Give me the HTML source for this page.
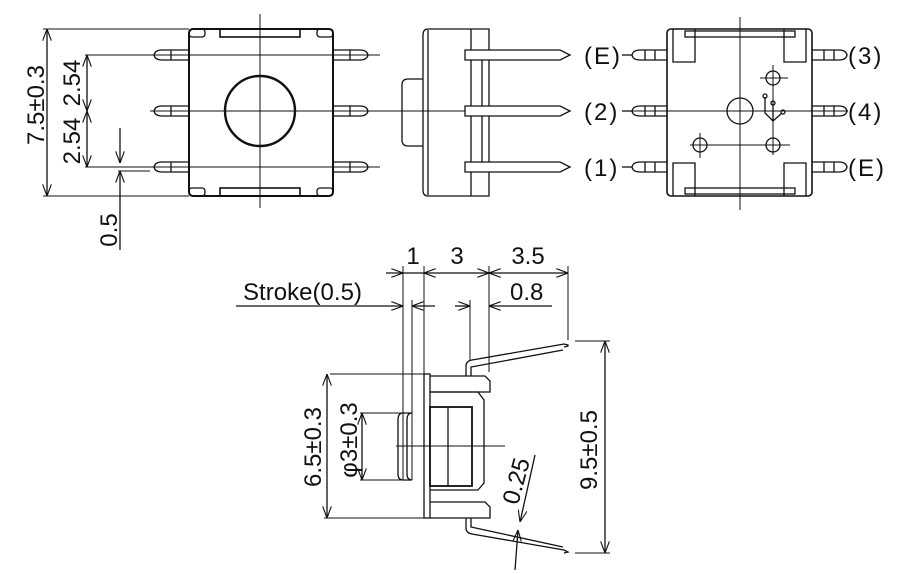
<!DOCTYPE html>
<html><head><meta charset="utf-8"><style>
html,body{margin:0;padding:0;background:#fff;width:906px;height:574px;overflow:hidden}
text{font-family:"Liberation Sans",sans-serif;fill:#111}
</style></head><body>
<svg width="906" height="574" viewBox="0 0 906 574" xmlns="http://www.w3.org/2000/svg">
<defs>
<marker id="a" markerWidth="12" markerHeight="9" refX="12" refY="4.5" orient="auto-start-reverse" markerUnits="userSpaceOnUse"><path d="M0,0 L12,4.5 L0,9" fill="none" stroke="#111" stroke-width="1.1"/></marker>
</defs>
<g stroke="#111" fill="none" stroke-width="1.3">
<!-- FRONT VIEW -->
<rect x="189" y="29" width="144" height="167" rx="4" stroke-width="2"/>
<rect x="189" y="29" width="16" height="8" rx="3"/>
<rect x="317" y="29" width="16" height="8" rx="3"/>
<rect x="189" y="188" width="16" height="8" rx="3"/>
<rect x="317" y="188" width="16" height="8" rx="3"/>
<rect x="220" y="29" width="80" height="8" stroke-width="1.6"/>
<rect x="220" y="188" width="80" height="8" stroke-width="1.6"/>
<circle cx="260" cy="111" r="35" stroke-width="2.4"/>
<line x1="260" y1="14" x2="260" y2="208" stroke-width="1"/>
<line x1="150" y1="111" x2="380" y2="111" stroke-width="1"/>
<g id="pl">
<path d="M189,50 H162 Q155,50 154,55 Q155,60 162,60 H189"/>
<line x1="171" y1="50" x2="171" y2="60"/>
</g>
<use href="#pl" y="56"/><use href="#pl" y="112"/>
<g id="pr"><path d="M333,50 H360 Q367,50 368,55 Q367,60 360,60 H333"/><line x1="350" y1="50" x2="350" y2="60"/></g>
<use href="#pr" y="56"/><use href="#pr" y="112"/>
<line x1="150" y1="55" x2="380" y2="55" stroke-width="1"/>
<line x1="150" y1="167" x2="380" y2="167" stroke-width="1"/>
<!-- dims -->
<line x1="43" y1="29" x2="189" y2="29" stroke-width="1"/><line x1="43" y1="196" x2="189" y2="196" stroke-width="1"/>
<line x1="47" y1="29" x2="47" y2="196" marker-start="url(#a)" marker-end="url(#a)"/>
<line x1="85" y1="55" x2="150" y2="55" stroke-width="1"/><line x1="85" y1="167" x2="150" y2="167" stroke-width="1"/>
<line x1="87" y1="55" x2="87" y2="111" marker-start="url(#a)" marker-end="url(#a)"/>
<line x1="87" y1="111" x2="87" y2="167" marker-start="url(#a)" marker-end="url(#a)"/>
<line x1="120" y1="128" x2="120" y2="163" marker-end="url(#a)"/>
<line x1="120" y1="250" x2="120" y2="171" marker-end="url(#a)"/>
<line x1="118" y1="171" x2="150" y2="171" stroke-width="1"/>
<!-- SIDE VIEW -->
<path d="M428,29 H489 V196 H428 Q423,196 423,190 V35 Q423,29 428,29 Z"/>
<line x1="428" y1="30" x2="428" y2="195"/>
<line x1="471" y1="29" x2="471" y2="196"/>
<path d="M423,79 H408 Q402,79 402,85 V140 Q402,146 408,146 H423"/>
<line x1="482" y1="60" x2="482" y2="162"/>
<g id="sp"><path d="M465,50 H560 L570,55 L560,60 H465 Z" fill="#fff"/></g>
<use href="#sp" y="56"/><use href="#sp" y="112"/>
<line x1="380" y1="111" x2="465" y2="111" stroke-width="1"/>
<!-- BACK VIEW -->
<rect x="667" y="29" width="145" height="167" rx="4" stroke-width="1.6"/>
<path d="M673,29 V62 H695 V29"/><path d="M806,29 V62 H784 V29"/>
<path d="M673,196 V163 H695 V196"/><path d="M806,196 V163 H784 V196"/>
<rect x="685" y="31" width="110" height="6"/><rect x="685" y="188" width="110" height="6"/>
<line x1="740" y1="17" x2="740" y2="210" stroke-width="1"/>
<line x1="632" y1="111" x2="848" y2="111" stroke-width="1"/>
<line x1="690" y1="145" x2="790" y2="145" stroke-width="1"/>
<line x1="760" y1="78" x2="788" y2="78" stroke-width="1"/>
<line x1="773" y1="65" x2="773" y2="155" stroke-width="1"/>
<line x1="700" y1="133" x2="700" y2="158" stroke-width="1"/>
<circle cx="740" cy="111" r="13"/>
<circle cx="773" cy="78" r="7"/><circle cx="700" cy="145" r="7"/><circle cx="773" cy="145" r="7"/>
<path d="M765,97 V113 L773,121 L782,113 M773,104 V121"/>
<circle cx="765" cy="96" r="2"/><circle cx="773" cy="103" r="2"/><circle cx="783" cy="112" r="2"/>
<g id="bl"><path d="M667,50 H640 Q633,50 632,55 Q633,60 640,60 H667"/><line x1="645" y1="50" x2="645" y2="60"/><line x1="655" y1="50" x2="655" y2="60"/></g>
<use href="#bl" y="56"/><use href="#bl" y="112"/>
<g id="br"><path d="M812,50 H839 Q846,50 847,55 Q846,60 839,60 H812"/><line x1="824" y1="50" x2="824" y2="60"/><line x1="834" y1="50" x2="834" y2="60"/></g>
<use href="#br" y="56"/><use href="#br" y="112"/>
<line x1="622" y1="55" x2="632" y2="55"/><line x1="622" y1="111" x2="632" y2="111"/><line x1="622" y1="167" x2="632" y2="167"/>
<!-- BOTTOM VIEW -->
<line x1="403" y1="266" x2="403" y2="480" stroke-width="1"/>
<line x1="412" y1="300" x2="412" y2="480" stroke-width="1"/>
<line x1="424" y1="266" x2="424" y2="374" stroke-width="1"/>
<line x1="489" y1="266" x2="489" y2="372" stroke-width="1"/>
<line x1="470" y1="300" x2="470" y2="360" stroke-width="1"/>
<line x1="568" y1="266" x2="568" y2="340" stroke-width="1"/>
<line x1="386" y1="273" x2="403" y2="273" marker-end="url(#a)"/>
<line x1="403" y1="273" x2="424" y2="273"/>
<line x1="424" y1="273" x2="489" y2="273" marker-start="url(#a)" marker-end="url(#a)"/>
<line x1="489" y1="273" x2="568" y2="273" marker-start="url(#a)" marker-end="url(#a)"/>
<line x1="236" y1="306" x2="403" y2="306" marker-end="url(#a)"/>
<line x1="435" y1="306" x2="412" y2="306" marker-end="url(#a)"/>
<line x1="455" y1="306" x2="470" y2="306" marker-end="url(#a)"/>
<line x1="552" y1="306" x2="489" y2="306" marker-end="url(#a)"/>
<rect x="424" y="374" width="6" height="144"/>
<path d="M430,376 H485 L490,381 V392 H430"/>
<path d="M430,392 H478 L484,400 V483 L478,490 H430"/>
<path d="M430,502 H485 L490,507 V518 H430"/>
<rect x="430" y="407" width="42" height="79" stroke-width="1.8"/>
<line x1="448" y1="407" x2="448" y2="486"/>
<path d="M403,413 H412 M403,480 H412"/>
<path d="M403,413 Q398,413 398,420 V474 Q398,480 403,480"/>
<path d="M412,413 Q407,413 407,420 V474 Q407,480 412,480"/>
<line x1="396" y1="446" x2="505" y2="446" stroke-width="1"/>
<path d="M466,376 V366 Q466,361 472,360 L564,344 L568,345 L568,346 L564,347"/>
<path d="M471,376 V367 L563,350"/>
<path d="M466,518 V528 Q466,533 472,534 L564,550 L568,552 L564,553"/>
<path d="M471,518 V527 L563,547"/>
<line x1="330" y1="374" x2="424" y2="374" stroke-width="1"/><line x1="324" y1="518" x2="424" y2="518" stroke-width="1"/>
<line x1="327" y1="374" x2="327" y2="518" marker-start="url(#a)" marker-end="url(#a)"/>
<line x1="360" y1="413" x2="403" y2="413" stroke-width="1"/><line x1="360" y1="480" x2="403" y2="480" stroke-width="1"/>
<line x1="362" y1="413" x2="362" y2="480" marker-start="url(#a)" marker-end="url(#a)"/>
<line x1="575" y1="341" x2="610" y2="341" stroke-width="1"/><line x1="575" y1="553" x2="610" y2="553" stroke-width="1"/>
<line x1="605" y1="341" x2="605" y2="553" marker-start="url(#a)" marker-end="url(#a)"/>
<line x1="535" y1="455" x2="520" y2="522" marker-end="url(#a)"/>
<line x1="515" y1="570" x2="518" y2="530" marker-end="url(#a)"/>
</g>
<g font-size="24">
<text transform="translate(44,105) rotate(-90)" text-anchor="middle">7.5±0.3</text>
<text transform="translate(80,83) rotate(-90)" text-anchor="middle">2.54</text>
<text transform="translate(80,141) rotate(-90)" text-anchor="middle">2.54</text>
<text transform="translate(117,230) rotate(-90)" text-anchor="middle">0.5</text>
<text x="584" y="64" letter-spacing="2">(E)</text>
<text x="584" y="120" letter-spacing="2">(2)</text>
<text x="584" y="176" letter-spacing="2">(1)</text>
<text x="848" y="64" letter-spacing="2">(3)</text>
<text x="848" y="120" letter-spacing="2">(4)</text>
<text x="848" y="176" letter-spacing="2">(E)</text>
<text x="413" y="264" text-anchor="middle">1</text>
<text x="457" y="264" text-anchor="middle">3</text>
<text x="528" y="264" text-anchor="middle">3.5</text>
<text x="243" y="300" textLength="119">Stroke(0.5)</text>
<text x="510" y="300">0.8</text>
<text transform="translate(321,447) rotate(-90)" text-anchor="middle">6.5±0.3</text>
<text transform="translate(357,440) rotate(-90)" text-anchor="middle">φ3±0.3</text>
<text transform="translate(597,450) rotate(-90)" text-anchor="middle">9.5±0.5</text>
<text transform="translate(524,483) rotate(-75)" text-anchor="middle">0.25</text>
</g>
</svg>
</body></html>
